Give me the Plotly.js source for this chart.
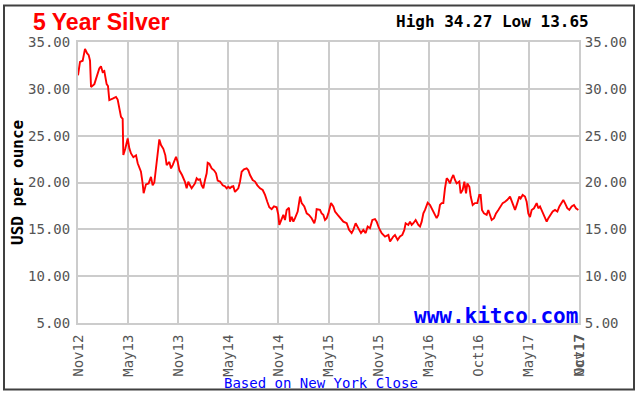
<!DOCTYPE html>
<html>
<head>
<meta charset="utf-8">
<script src="https://cdn.plot.ly/plotly-3.0.1.min.js"></script>
<style>
html,body{margin:0;padding:0;background:#fff;}
#chart{width:640px;height:396px;}
</style>
</head>
<body>
<div id="chart"></div>
<script>
// Months since Nov 2012 (x position) and silver price in USD per ounce
var months = [0.00,0.24,0.56,0.84,1.08,1.28,1.44,1.56,1.96,2.24,2.55,2.75,2.95,3.15,3.43,3.59,3.75,4.15,4.55,4.75,4.95,5.15,5.35,5.43,5.67,5.95,6.15,6.35,6.63,6.95,7.15,7.35,7.54,7.74,7.86,8.14,8.46,8.74,8.94,9.14,9.34,9.54,9.74,9.94,10.22,10.46,10.62,10.94,11.14,11.34,11.54,11.74,11.94,12.14,12.46,12.81,13.01,13.21,13.41,13.61,14.01,14.21,14.41,14.61,14.81,15.01,15.21,15.41,15.53,15.73,16.01,16.29,16.53,16.73,17.01,17.33,17.6,17.8,18.0,18.2,18.4,18.6,18.8,19.2,19.4,19.6,19.88,20.2,20.4,20.6,20.92,21.2,21.48,21.8,22.12,22.4,22.67,22.91,23.19,23.47,23.79,23.99,24.11,24.39,24.59,24.79,24.99,25.27,25.39,25.59,25.79,25.99,26.31,26.59,26.79,27.1,27.39,27.66,27.98,28.3,28.46,28.58,28.98,29.18,29.38,29.58,29.78,29.98,30.3,30.58,30.78,31.1,31.38,31.78,32.18,32.46,32.77,32.97,33.25,33.57,33.89,34.17,34.45,34.69,34.97,35.25,35.57,35.77,36.05,36.37,36.77,37.17,37.37,37.76,37.96,38.28,38.56,38.84,39.08,39.24,39.56,39.76,39.96,40.16,40.44,40.76,40.96,41.16,41.36,41.56,41.88,42.16,42.44,42.75,42.95,43.15,43.35,43.55,43.75,43.95,44.15,44.35,44.55,44.75,44.95,45.15,45.35,45.67,45.83,46.07,46.27,46.47,46.63,46.87,47.03,47.27,47.54,47.82,48.06,48.22,48.38,48.62,48.94,49.14,49.34,49.54,49.82,50.06,50.34,50.62,50.86,51.14,51.42,51.74,51.94,52.14,52.34,52.61,52.85,53.01,53.25,53.53,53.73,53.93,54.13,54.33,54.61,54.93,55.13,55.33,55.53,55.81,56.13,56.33,56.61,56.85,57.13,57.41,57.65,57.92,58.12,58.32,58.6,58.84,59.12,59.4,59.64,59.92];
var prices = [31.45,32.87,33.0,34.27,33.8,33.6,33.0,30.2,30.5,31.27,32.17,32.4,31.8,31.9,30.5,30.3,28.8,28.95,29.14,28.85,28.07,27.0,26.8,22.93,23.64,24.7,23.64,23.1,22.7,22.9,22.05,21.68,21.15,19.9,18.85,19.8,19.9,20.6,19.7,20.0,21.5,23.46,24.6,24.0,23.6,22.9,21.86,22.2,21.5,21.86,22.4,22.75,22.2,21.3,20.8,20.08,19.38,20.08,19.7,19.38,19.9,20.45,20.27,20.35,19.7,19.38,20.27,20.98,22.1,22.0,21.5,21.3,20.98,20.2,20.1,19.7,19.6,19.38,19.55,19.38,19.55,19.6,19.0,19.38,20.08,21.15,21.4,21.5,21.3,20.8,20.27,20.1,19.7,19.38,19.2,18.67,17.95,17.36,17.15,17.45,17.36,16.54,15.47,16.2,16.54,16.0,17.07,17.3,15.82,16.35,15.82,16.19,16.9,18.5,17.8,17.45,16.7,16.54,16.19,15.65,16.19,17.15,17.07,16.7,16.54,16.0,16.19,16.7,17.8,17.45,16.9,16.54,16.19,15.82,15.65,14.94,14.6,14.94,15.65,15.12,14.6,14.94,14.6,15.3,15.12,16.0,16.1,15.82,15.12,14.59,14.23,14.4,13.7,14.23,14.4,13.87,14.23,14.4,14.94,15.65,15.47,15.82,15.47,15.65,16.0,15.47,15.3,15.82,16.7,17.07,17.85,17.6,17.07,16.54,16.19,16.54,17.6,17.8,17.8,19.38,20.45,20.27,19.9,20.45,20.8,20.27,19.9,20.1,18.85,19.2,20.08,18.85,19.9,19.55,18.5,17.6,17.8,17.8,18.67,18.67,17.07,16.7,16.54,17.07,16.54,16.0,16.19,16.7,17.07,17.45,17.8,17.95,18.15,18.5,17.95,17.45,17.07,17.8,18.5,18.3,18.67,18.5,17.95,16.7,16.3,17.07,17.25,17.8,17.25,17.45,17.07,16.54,15.82,16.19,16.54,16.9,17.07,16.9,17.45,17.8,18.13,17.8,17.25,17.07,17.45,17.6,17.25,17.07];

var xTickPositions = [0,6,12,18,24,30,36,42,48,54,60];
var xTickLabels = ["Nov12","May13","Nov13","May14","Nov14","May15","Nov15","May16","Oct16","May17","Nov17"];
var xOverlapLabel = ["Oct17"];
var yTickValues = [5,10,15,20,25,30,35];

var titleText = "5 Year Silver";
var highLowText = "High 34.27 Low 13.65";
var yTitleText = "USD per ounce";
var sourceText = "Based on New York Close";
var siteText = "www.kitco.com";

// layout geometry (pixels)
var W = 640, H = 396, L = 78, R = 61, T = 42, B = 73;
var PW = W - L - R, PH = H - T - B;
function px(x){ return (x - L) / PW; }
function py(y){ return (H - B - y) / PH; }

var mono = "DejaVu Sans Mono, monospace";
var grid = "#cccccc";
var tickFont = {family: mono, size: 14, color: "#555555"};

var traces = [
  {x: months, y: prices, type: "scatter", mode: "lines",
   line: {color: "#ff0000", width: 1.9}, hoverinfo: "skip", showlegend: false},
  {x: months, y: prices, xaxis: "x2", yaxis: "y2", type: "scatter", mode: "lines",
   line: {color: "rgba(0,0,0,0)", width: 0}, hoverinfo: "skip", showlegend: false}
];

var layout = {
  width: W, height: H,
  margin: {l: L, r: R, t: T, b: B, pad: 0},
  paper_bgcolor: "#ffffff", plot_bgcolor: "#ffffff",
  showlegend: false,
  xaxis: {
    range: [0, 60], tickmode: "array", tickvals: xTickPositions, ticktext: xTickLabels,
    tickangle: -90, tickfont: tickFont, showgrid: true, gridcolor: grid, gridwidth: 2,
    showline: true, linecolor: grid, linewidth: 2, mirror: true,
    zeroline: false, ticks: "outside", ticklen: 4, tickcolor: "rgba(0,0,0,0)", fixedrange: true
  },
  xaxis2: {
    range: [0, 60], overlaying: "x", side: "bottom", anchor: "y2",
    tickmode: "array", tickvals: [xTickPositions[xTickPositions.length - 1]], ticktext: xOverlapLabel,
    tickangle: -90, tickfont: tickFont, showgrid: false, showline: false, zeroline: false,
    ticks: "outside", ticklen: 4, tickcolor: "rgba(0,0,0,0)", fixedrange: true
  },
  yaxis: {
    range: [5, 35], tickmode: "array", tickvals: yTickValues, tickformat: ".2f",
    tickfont: tickFont, showgrid: true, gridcolor: grid, gridwidth: 2,
    showline: true, linecolor: grid, linewidth: 2, mirror: true, zeroline: false,
    ticks: "outside", ticklen: 3, tickcolor: "rgba(0,0,0,0)", fixedrange: true
  },
  yaxis2: {
    range: [5, 35], overlaying: "y", side: "right", anchor: "x2",
    tickmode: "array", tickvals: yTickValues, tickformat: ".2f",
    tickfont: tickFont, showgrid: false, showline: false, zeroline: false,
    ticks: "outside", ticklen: 2, tickcolor: "rgba(0,0,0,0)", fixedrange: true
  },
  shapes: [
    {type: "rect", xref: "paper", yref: "paper",
     x0: px(4), x1: px(634), y0: py(389.5), y1: py(5.5),
     line: {color: "#404040", width: 2}, fillcolor: "rgba(0,0,0,0)"}
  ],
  annotations: [
    {text: "<b>" + titleText + "</b>", xref: "paper", yref: "paper",
     x: px(31), y: py(22), xanchor: "left", yanchor: "middle", showarrow: false,
     font: {family: "Liberation Sans, Arial, sans-serif", size: 23, color: "#ff0000"}},
    {text: "<b>" + highLowText + "</b>", xref: "paper", yref: "paper",
     x: px(591), y: py(21.5), xanchor: "right", yanchor: "middle", showarrow: false,
     font: {family: mono, size: 16, color: "#000000"}},
    {text: "<b>" + yTitleText + "</b>", xref: "paper", yref: "paper",
     x: px(17), y: py(183), xanchor: "center", yanchor: "middle", showarrow: false,
     textangle: -90, font: {family: mono, size: 16, color: "#000000"}},
    {text: sourceText, xref: "paper", yref: "paper",
     x: px(320.5), y: py(382.5), xanchor: "center", yanchor: "middle", showarrow: false,
     font: {family: mono, size: 14, color: "#0000ff"}},
    {text: "<b>" + siteText + "</b>", xref: "paper", yref: "paper",
     x: px(580), y: py(315.5), xanchor: "right", yanchor: "middle", showarrow: false,
     font: {family: mono, size: 21, color: "#0000ff"}}
  ]
};

Plotly.newPlot("chart", traces, layout, {staticPlot: true, displayModeBar: false});
</script>
</body>
</html>
